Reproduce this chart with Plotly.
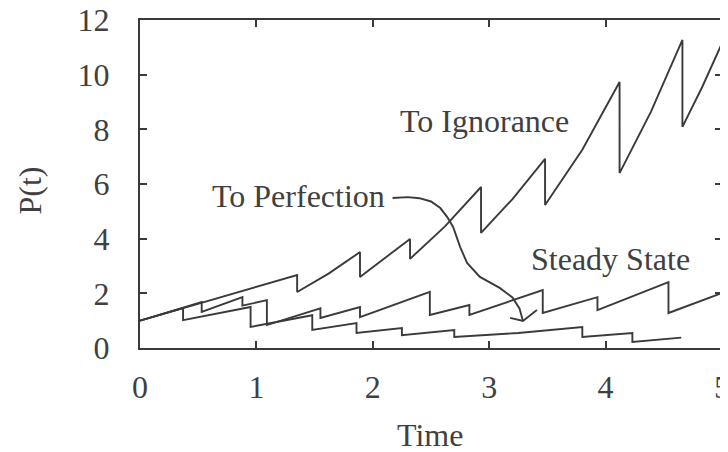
import plotly.graph_objects as go

# ---- data ----
ign_t = [0.0, 0.68, 1.35, 1.35, 1.62, 1.89, 1.89, 2.32, 2.32, 2.62, 2.93, 2.93, 3.20, 3.48, 3.48, 3.80, 4.12, 4.12, 4.39, 4.66, 4.66, 4.83, 5.0]
ign_p = [1.0, 1.85, 2.67, 2.05, 2.72, 3.51, 2.60, 3.99, 3.26, 4.45, 5.89, 4.21, 5.45, 6.92, 5.23, 7.25, 9.73, 6.40, 8.65, 11.27, 8.09, 9.55, 11.15]

ss_t = [0.0, 0.37, 0.53, 0.53, 0.88, 0.88, 1.09, 1.09, 1.55, 1.55, 1.89, 1.89, 2.49, 2.49, 2.83, 2.83, 3.46, 3.46, 3.93, 3.93, 4.54, 4.54, 5.0]
ss_p = [1.0, 1.46, 1.68, 1.32, 1.86, 1.55, 1.75, 0.84, 1.45, 1.10, 1.50, 1.13, 2.05, 1.21, 1.57, 1.21, 2.12, 1.28, 1.86, 1.39, 2.41, 1.28, 2.01]

pf_t = [0.0, 0.37, 0.37, 0.95, 0.95, 1.48, 1.48, 1.86, 1.86, 2.25, 2.25, 2.70, 2.70, 3.25, 3.80, 3.80, 4.23, 4.23, 4.65]
pf_p = [1.0, 1.46, 1.02, 1.50, 0.77, 1.20, 0.66, 0.91, 0.55, 0.73, 0.47, 0.66, 0.40, 0.55, 0.77, 0.40, 0.55, 0.22, 0.38]

x_ticks = [0, 1, 2, 3, 4, 5]
y_ticks = [0, 2, 4, 6, 8, 10, 12]

# pointer from the "To Perfection" label (data coordinates)
arc_t = [2.17, 2.30, 2.40, 2.50, 2.58, 2.64, 2.69, 2.75, 2.81, 2.92, 3.09, 3.20, 3.26, 3.29]
arc_p = [5.49, 5.52, 5.48, 5.36, 5.12, 4.79, 4.43, 3.70, 3.11, 2.60, 2.20, 1.85, 1.45, 0.99]
head_t = [3.18, 3.29, 3.41]
head_p = [1.10, 0.99, 1.39]

labels = [
    ("To Ignorance", 2.96, 8.3),
    ("To Perfection", 1.36, 5.55),
    ("Steady State", 4.04, 3.25),
]

LINE = "#3a3a3a"
TEXT = "#404040"
FONT = "Liberation Serif"

fig = go.Figure()
for t, p in [(ign_t, ign_p), (ss_t, ss_p), (pf_t, pf_p), (arc_t, arc_p), (head_t, head_p)]:
    fig.add_trace(go.Scatter(x=t, y=p, mode="lines",
                             line=dict(color=LINE, width=1.9),
                             showlegend=False, hoverinfo="skip"))

for txt, x, y in labels:
    fig.add_annotation(x=x, y=y, text=txt, showarrow=False,
                       font=dict(family=FONT, size=32, color=TEXT))

fig.add_annotation(xref="paper", yref="paper", x=0.498, y=-0.265, yanchor="middle",
                   text="Time", showarrow=False, font=dict(family=FONT, size=32, color=TEXT))
fig.add_annotation(xref="paper", yref="paper", x=-0.189, y=0.48, xanchor="center",
                   text="P(t)", textangle=-90, showarrow=False,
                   font=dict(family=FONT, size=32, color=TEXT))

axis_common = dict(
    showgrid=False, zeroline=False, showline=True, linecolor=LINE, linewidth=2,
    mirror="ticks", ticks="inside", ticklen=7, tickwidth=1.5, tickcolor=LINE,
    tickfont=dict(family=FONT, size=32, color=TEXT), automargin=False,
    ticklabeloverflow="allow",
)

fig.update_layout(
    width=728, height=452,
    margin=dict(l=132, r=14, t=12, b=112),
    paper_bgcolor="white", plot_bgcolor="white",
    xaxis=dict(range=[0, 5], tickvals=x_ticks, ticklabelstandoff=10, **axis_common),
    yaxis=dict(range=[0, 12], tickvals=y_ticks, ticklabelstandoff=22, **axis_common),
)

fig.write_html("out.html")
